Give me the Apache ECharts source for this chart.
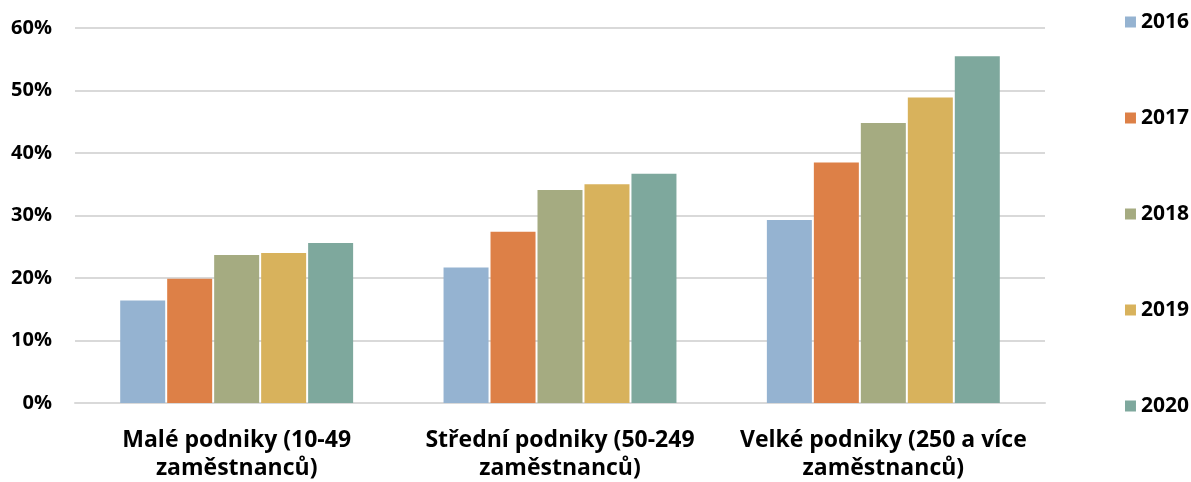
<!DOCTYPE html>
<html><head><meta charset="utf-8">
<script src="https://cdn.jsdelivr.net/npm/echarts@6/dist/echarts.min.js"></script>
<style>html,body{margin:0;padding:0;background:#fff}#c{width:1191px;height:482px}</style>
</head><body><div id="c"></div>
<script>
const categories = ['Malé podniky (10-49\nzaměstnanců)', 'Střední podniky (50-249\nzaměstnanců)', 'Velké podniky (250 a více\nzaměstnanců)'];
const years = ['2016', '2017', '2018', '2019', '2020'];
const v2016 = [16.4, 21.7, 29.3];
const v2017 = [19.9, 27.4, 38.5];
const v2018 = [23.7, 34.1, 44.8];
const v2019 = [24.0, 35.0, 48.9];
const v2020 = [25.6, 36.7, 55.5];
const yTicks = [0, 10, 20, 30, 40, 50, 60];
const colors = ['#95b3d1', '#dd8047', '#a5ab81', '#d8b25c', '#7ea89d'];
const values = [v2016, v2017, v2018, v2019, v2020];
const font = 'Open Sans';
const chart = echarts.init(document.getElementById('c'), null, {renderer: 'canvas'});
chart.setOption({
  animation: false,
  color: colors,
  grid: {left: 75, right: 146, top: 28, bottom: 78, containLabel: false},
  legend: {
    orient: 'vertical', right: 2, top: 10, padding: 0,
    itemWidth: 11, itemHeight: 11, itemGap: 72, itemTextGap: 8,
    icon: 'rect',
    textStyle: {fontFamily: font, fontWeight: 'bold', fontSize: 21, color: '#000', lineHeight: 24},
    data: years
  },
  xAxis: {
    type: 'category', data: categories,
    axisTick: {show: false},
    axisLine: {lineStyle: {color: '#d9d9d9', width: 2}},
    axisLabel: {fontFamily: font, fontWeight: 'bold', fontSize: 23, color: '#000', lineHeight: 28, margin: 23, interval: 0}
  },
  yAxis: {
    type: 'value', min: yTicks[0], max: yTicks[yTicks.length - 1], interval: 10,
    axisLine: {show: false}, axisTick: {show: false},
    splitLine: {lineStyle: {color: '#d9d9d9', width: 2}},
    axisLabel: {formatter: '{value}%', fontFamily: font, fontWeight: 'bold', fontSize: 20, color: '#000', margin: 23}
  },
  series: years.map((y, i) => ({
    name: y, type: 'bar', data: values[i],
    barWidth: 45, barGap: '4.4%',
    itemStyle: {color: colors[i]}
  }))
});
</script></body></html>
